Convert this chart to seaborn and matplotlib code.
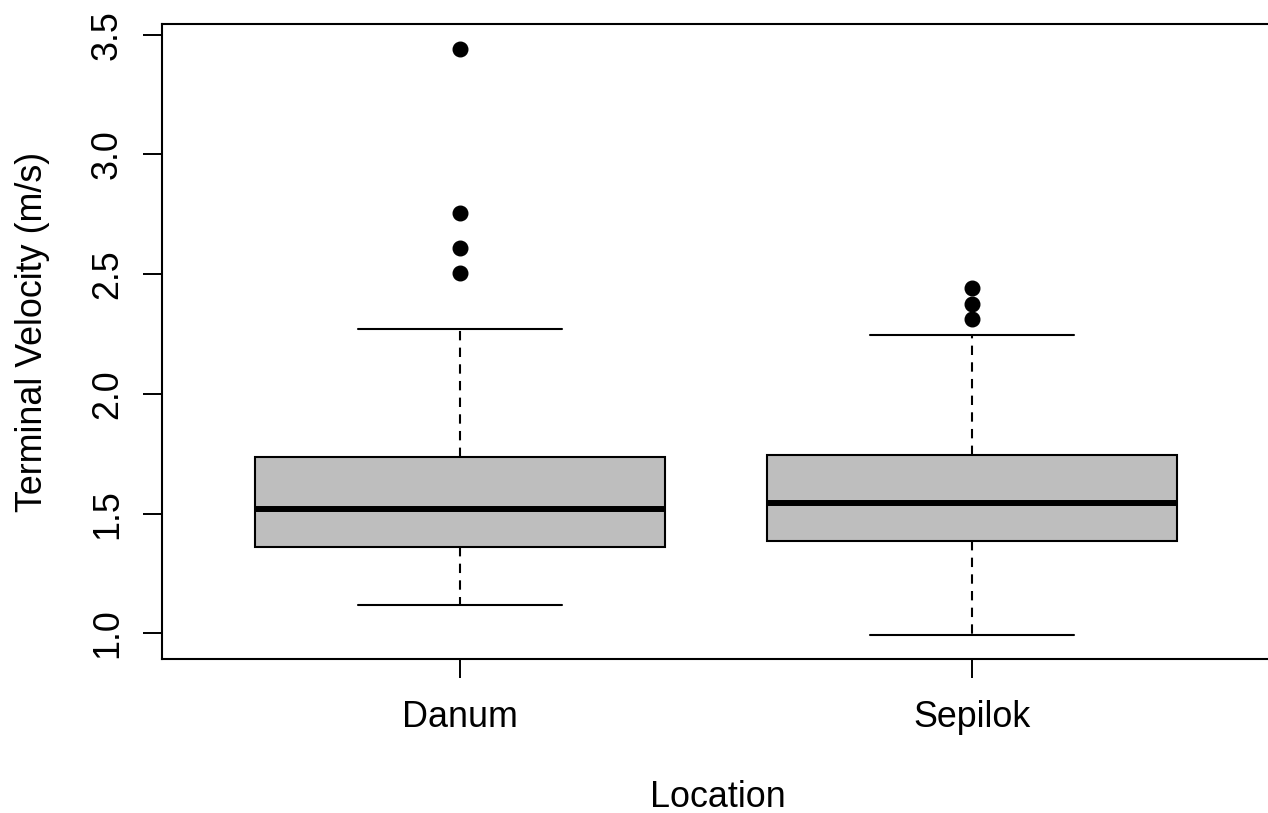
import numpy as np
import pandas as pd
import matplotlib
matplotlib.use("Agg")
import matplotlib.pyplot as plt
import seaborn as sns

# Data
locations = ["Danum", "Sepilok"]
danum = [1.117, 1.20, 1.26, 1.30, 1.34, 1.359, 1.39, 1.43, 1.46, 1.49, 1.518,
         1.56, 1.61, 1.66, 1.70, 1.738, 2.270, 2.504, 2.611, 2.757, 3.439]
sepilok = [0.993, 1.18, 1.28, 1.34, 1.386, 1.43, 1.47, 1.51, 1.543, 1.59,
           1.64, 1.70, 1.745, 2.246, 2.312, 2.374, 2.441]
yticks = [1.0, 1.5, 2.0, 2.5, 3.0, 3.5]
ytick_labels = ["1.0", "1.5", "2.0", "2.5", "3.0", "3.5"]

df = pd.DataFrame({
    "Location": ["Danum"] * len(danum) + ["Sepilok"] * len(sepilok),
    "Velocity": danum + sepilok,
})

sns.set_style("ticks")
plt.rcParams["font.family"] = ["Liberation Sans", "DejaVu Sans"]
plt.rcParams["text.color"] = "black"
plt.rcParams["axes.labelcolor"] = "black"
plt.rcParams["xtick.color"] = "black"
plt.rcParams["ytick.color"] = "black"

W, H = 1268, 813
fig = plt.figure(figsize=(W / 100, H / 100), dpi=100)
left_px, right_px, top_px, bottom_px = 162, 1273, 24.5, 659
ax = fig.add_axes([left_px / W, (H - bottom_px) / H,
                   (right_px - left_px) / W, (bottom_px - top_px) / H])

sns.boxplot(data=df, x="Location", y="Velocity", order=locations, ax=ax,
            color="#BEBEBE", saturation=1, width=0.8, whis=1.5,
            linecolor="black", linewidth=1.5, fliersize=10.5,
            medianprops=dict(linewidth=4.3, color="black"),
            whiskerprops=dict(linestyle=(0, (4.5, 3.5)), linewidth=1.5, color="black"),
            capprops=dict(linewidth=1.5, color="black"),
            flierprops=dict(marker="o", markerfacecolor="black",
                            markeredgecolor="black"))

# axis scales
px_per_unit_x = 512
xl = -(460 - left_px) / px_per_unit_x
xr = xl + (right_px - left_px) / px_per_unit_x
ax.set_xlim(xl, xr)
y1_px, scale = 633.3, 239.4
ax.set_ylim(1 - (bottom_px - y1_px) / scale, 1 + (y1_px - top_px) / scale)

fs = 25.8
ax.set_yticks(yticks)
ax.set_yticklabels(ytick_labels, rotation=90, va="center", fontsize=fs,
                   color="black")
ax.set_xticks(range(len(locations)))
ax.set_xticklabels(locations, fontsize=fs, color="black")
ax.tick_params(axis="both", length=13.7, width=1.4, color="black",
               labelcolor="black", direction="out")
ax.tick_params(axis="y", pad=13)
ax.tick_params(axis="x", pad=16)

for s in ["left", "bottom", "top", "right"]:
    ax.spines[s].set_visible(True)
    ax.spines[s].set_linewidth(1.5)
    ax.spines[s].set_color("black")

ax.set_xlabel("Location", fontsize=fs, color="black")
ax.set_ylabel("Terminal Velocity (m/s)", fontsize=fs, color="black")
ax.xaxis.set_label_coords(0.5, -(780 - bottom_px) / (bottom_px - top_px))
ax.yaxis.set_label_coords((50 - left_px) / (right_px - left_px),
                          (bottom_px - 332) / (bottom_px - top_px))

fig.savefig("out.png", dpi=100, facecolor="white")
